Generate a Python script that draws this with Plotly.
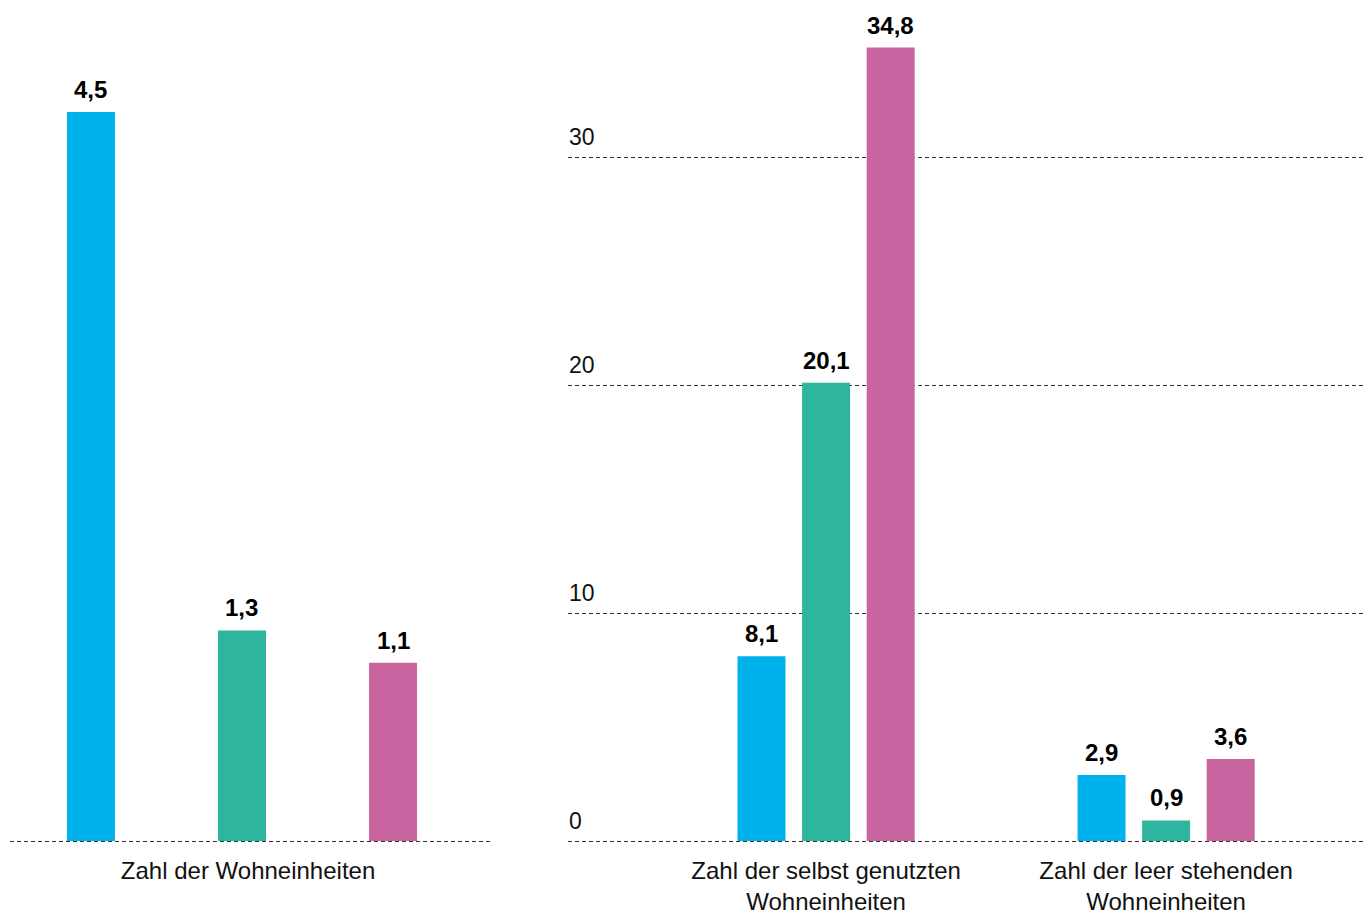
import plotly.graph_objects as go

# ---- data ----
series_names = ["Reihe 1", "Reihe 2", "Reihe 3"]
colors = ["#00B2EB", "#2EB59D", "#C865A1"]

left_category = "Zahl der Wohneinheiten"
left_values = [4.5, 1.3, 1.1]

right_categories = ["Zahl der selbst genutzten<br>Wohneinheiten",
                    "Zahl der leer stehenden<br>Wohneinheiten"]
right_values = {
    "Reihe 1": [8.1, 2.9],
    "Reihe 2": [20.1, 0.9],
    "Reihe 3": [34.8, 3.6],
}
right_ticks = [0, 10, 20, 30]

FONT = "Arial, Liberation Sans, sans-serif"


def de(v):
    return f"{v:.1f}".replace(".", ",")


fig = go.Figure()

# left panel: one bar per series, spread along the axis
fig.add_trace(go.Bar(
    x=list(range(len(left_values))), y=left_values,
    marker=dict(color=colors, line=dict(width=0)),
    width=0.318, xaxis="x", yaxis="y", showlegend=False,
    hoverinfo="skip",
))

# right panel: grouped bars
for s, c in zip(series_names, colors):
    fig.add_trace(go.Bar(
        x=right_categories, y=right_values[s], name=s,
        marker=dict(color=c, line=dict(width=0)),
        xaxis="x2", yaxis="y2", showlegend=False, hoverinfo="skip",
    ))

annotations = []
for i, v in enumerate(left_values):
    annotations.append(dict(x=i, y=v, xref="x", yref="y", text=f"<b>{de(v)}</b>",
                            showarrow=False, yanchor="bottom", yshift=7,
                            font=dict(family=FONT, size=24, color="#000")))
group_step = 0.19
for si, s in enumerate(series_names):
    for ci, v in enumerate(right_values[s]):
        annotations.append(dict(x=ci + (si - 1) * group_step, y=v, xref="x2", yref="y2",
                                text=f"<b>{de(v)}</b>", showarrow=False,
                                yanchor="bottom", yshift=7,
                                font=dict(family=FONT, size=24, color="#000")))

grid = dict(showgrid=True, gridcolor="#333333", gridwidth=1, griddash="4px,3px",
            zeroline=False, showline=False, ticks="")

left_scale = 162.0   # px per unit
right_scale = 22.8   # px per unit
pad_px = 3           # space below the zero line
top_px = 831         # px from zero line to plot top

fig.update_layout(
    width=1363, height=914,
    margin=dict(l=0, r=0, t=10, b=73 - pad_px),
    paper_bgcolor="white", plot_bgcolor="white",
    barmode="group", bargap=0.43, bargroupgap=0.257,
    font=dict(family=FONT, size=24, color="#111"),
    annotations=annotations,
    xaxis=dict(domain=[10 / 1363, 490 / 1363], range=[-0.536, 2.642],
               tickmode="array", tickvals=[1.04], ticktext=[left_category],
               showgrid=False, zeroline=False, showline=False, ticks="",
               tickfont=dict(size=24), ticklabelstandoff=10, automargin=False),
    yaxis=dict(domain=[0, 1], range=[-pad_px / left_scale, top_px / left_scale],
               tickmode="array", tickvals=[0], showticklabels=False,
               automargin=False, **grid),
    xaxis2=dict(domain=[568 / 1363, 1.0], type="category", range=[-0.759, 1.579],
                showgrid=False, zeroline=False, showline=False, ticks="",
                tickfont=dict(size=24), ticklabelstandoff=10, automargin=False),
    yaxis2=dict(domain=[0, 1], anchor="x2",
                range=[-pad_px / right_scale, top_px / right_scale],
                tickmode="array", tickvals=right_ticks,
                ticklabelposition="inside top", ticklabelshift=-4,
                ticklabelstandoff=-2, automargin=False,
                tickfont=dict(size=23, color="#111"),
                **grid),
)

fig.write_html("out.html")
